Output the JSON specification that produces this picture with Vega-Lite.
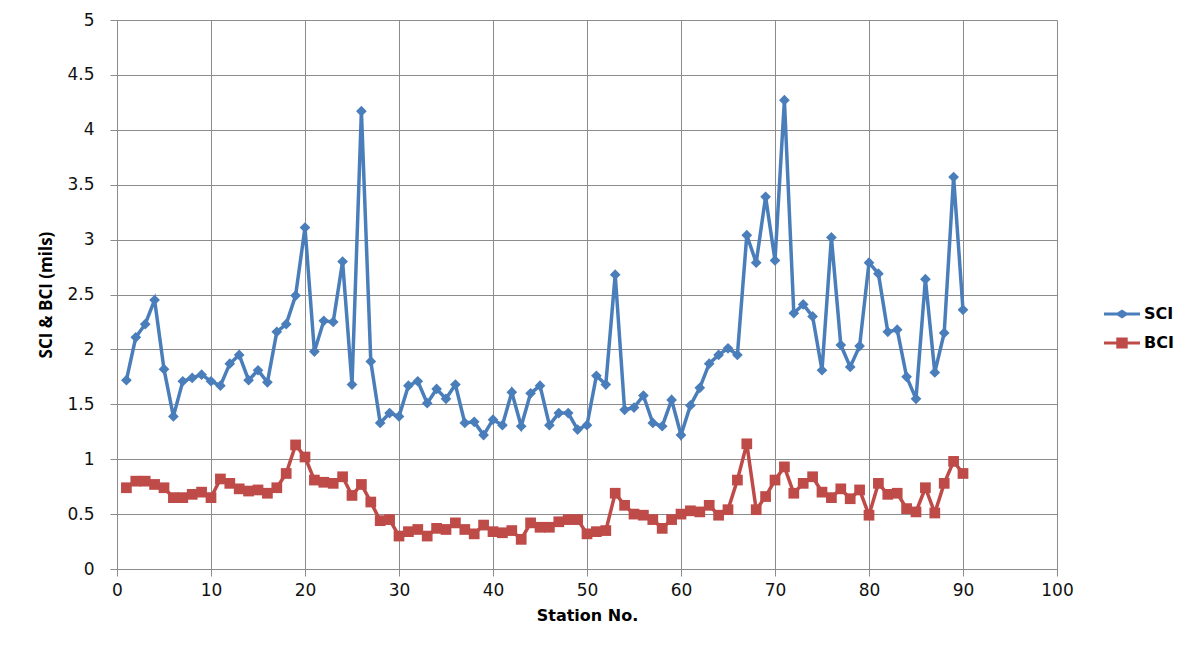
{
  "$schema": "https://vega.github.io/schema/vega-lite/v6.json",
  "autosize": "none",
  "width": 940,
  "height": 549,
  "padding": {"left": 117, "top": 20, "right": 128, "bottom": 77},
  "background": "white",
  "config": {
    "view": {"stroke": null},
    "axis": {
      "gridColor": "#8c8c8c",
      "gridWidth": 1,
      "domainColor": "#8c8c8c",
      "tickColor": "#8c8c8c",
      "tickSize": 7,
      "labelFont": "DejaVu Sans",
      "labelFontSize": 17,
      "labelColor": "#111",
      "titleColor": "#000",
      "titleFontWeight": "bold",
      "titleFontSize": 17
    }
  },
  "datasets": {
    "deflection": [
      {"station": 1, "SCI": 1.72, "BCI": 0.74},
      {"station": 2, "SCI": 2.11, "BCI": 0.80},
      {"station": 3, "SCI": 2.23, "BCI": 0.80},
      {"station": 4, "SCI": 2.45, "BCI": 0.77},
      {"station": 5, "SCI": 1.82, "BCI": 0.74},
      {"station": 6, "SCI": 1.39, "BCI": 0.65},
      {"station": 7, "SCI": 1.71, "BCI": 0.65},
      {"station": 8, "SCI": 1.74, "BCI": 0.68},
      {"station": 9, "SCI": 1.77, "BCI": 0.70},
      {"station": 10, "SCI": 1.71, "BCI": 0.65},
      {"station": 11, "SCI": 1.67, "BCI": 0.82},
      {"station": 12, "SCI": 1.87, "BCI": 0.78},
      {"station": 13, "SCI": 1.95, "BCI": 0.73},
      {"station": 14, "SCI": 1.72, "BCI": 0.71},
      {"station": 15, "SCI": 1.81, "BCI": 0.72},
      {"station": 16, "SCI": 1.70, "BCI": 0.69},
      {"station": 17, "SCI": 2.16, "BCI": 0.74},
      {"station": 18, "SCI": 2.23, "BCI": 0.87},
      {"station": 19, "SCI": 2.49, "BCI": 1.13},
      {"station": 20, "SCI": 3.11, "BCI": 1.02},
      {"station": 21, "SCI": 1.98, "BCI": 0.81},
      {"station": 22, "SCI": 2.26, "BCI": 0.79},
      {"station": 23, "SCI": 2.25, "BCI": 0.78},
      {"station": 24, "SCI": 2.80, "BCI": 0.84},
      {"station": 25, "SCI": 1.68, "BCI": 0.67},
      {"station": 26, "SCI": 4.17, "BCI": 0.77},
      {"station": 27, "SCI": 1.89, "BCI": 0.61},
      {"station": 28, "SCI": 1.33, "BCI": 0.44},
      {"station": 29, "SCI": 1.42, "BCI": 0.45},
      {"station": 30, "SCI": 1.39, "BCI": 0.30},
      {"station": 31, "SCI": 1.67, "BCI": 0.34},
      {"station": 32, "SCI": 1.71, "BCI": 0.36},
      {"station": 33, "SCI": 1.51, "BCI": 0.30},
      {"station": 34, "SCI": 1.64, "BCI": 0.37},
      {"station": 35, "SCI": 1.55, "BCI": 0.36},
      {"station": 36, "SCI": 1.68, "BCI": 0.42},
      {"station": 37, "SCI": 1.33, "BCI": 0.36},
      {"station": 38, "SCI": 1.34, "BCI": 0.32},
      {"station": 39, "SCI": 1.22, "BCI": 0.40},
      {"station": 40, "SCI": 1.36, "BCI": 0.34},
      {"station": 41, "SCI": 1.31, "BCI": 0.33},
      {"station": 42, "SCI": 1.61, "BCI": 0.35},
      {"station": 43, "SCI": 1.30, "BCI": 0.27},
      {"station": 44, "SCI": 1.60, "BCI": 0.42},
      {"station": 45, "SCI": 1.67, "BCI": 0.38},
      {"station": 46, "SCI": 1.31, "BCI": 0.38},
      {"station": 47, "SCI": 1.42, "BCI": 0.43},
      {"station": 48, "SCI": 1.42, "BCI": 0.45},
      {"station": 49, "SCI": 1.27, "BCI": 0.45},
      {"station": 50, "SCI": 1.31, "BCI": 0.32},
      {"station": 51, "SCI": 1.76, "BCI": 0.34},
      {"station": 52, "SCI": 1.68, "BCI": 0.35},
      {"station": 53, "SCI": 2.68, "BCI": 0.69},
      {"station": 54, "SCI": 1.45, "BCI": 0.58},
      {"station": 55, "SCI": 1.47, "BCI": 0.50},
      {"station": 56, "SCI": 1.58, "BCI": 0.49},
      {"station": 57, "SCI": 1.33, "BCI": 0.45},
      {"station": 58, "SCI": 1.30, "BCI": 0.37},
      {"station": 59, "SCI": 1.54, "BCI": 0.45},
      {"station": 60, "SCI": 1.22, "BCI": 0.50},
      {"station": 61, "SCI": 1.49, "BCI": 0.53},
      {"station": 62, "SCI": 1.65, "BCI": 0.52},
      {"station": 63, "SCI": 1.87, "BCI": 0.58},
      {"station": 64, "SCI": 1.95, "BCI": 0.49},
      {"station": 65, "SCI": 2.01, "BCI": 0.54},
      {"station": 66, "SCI": 1.95, "BCI": 0.81},
      {"station": 67, "SCI": 3.04, "BCI": 1.14},
      {"station": 68, "SCI": 2.79, "BCI": 0.54},
      {"station": 69, "SCI": 3.39, "BCI": 0.66},
      {"station": 70, "SCI": 2.81, "BCI": 0.81},
      {"station": 71, "SCI": 4.27, "BCI": 0.93},
      {"station": 72, "SCI": 2.33, "BCI": 0.69},
      {"station": 73, "SCI": 2.41, "BCI": 0.78},
      {"station": 74, "SCI": 2.30, "BCI": 0.84},
      {"station": 75, "SCI": 1.81, "BCI": 0.70},
      {"station": 76, "SCI": 3.02, "BCI": 0.65},
      {"station": 77, "SCI": 2.04, "BCI": 0.73},
      {"station": 78, "SCI": 1.84, "BCI": 0.64},
      {"station": 79, "SCI": 2.03, "BCI": 0.72},
      {"station": 80, "SCI": 2.79, "BCI": 0.49},
      {"station": 81, "SCI": 2.69, "BCI": 0.78},
      {"station": 82, "SCI": 2.16, "BCI": 0.68},
      {"station": 83, "SCI": 2.18, "BCI": 0.69},
      {"station": 84, "SCI": 1.75, "BCI": 0.55},
      {"station": 85, "SCI": 1.55, "BCI": 0.52},
      {"station": 86, "SCI": 2.64, "BCI": 0.74},
      {"station": 87, "SCI": 1.79, "BCI": 0.51},
      {"station": 88, "SCI": 2.15, "BCI": 0.78},
      {"station": 89, "SCI": 3.57, "BCI": 0.98},
      {"station": 90, "SCI": 2.36, "BCI": 0.87}
    ]
  },
  "data": {"name": "deflection"},
  "transform": [
    {"fold": ["SCI", "BCI"], "as": ["index", "value"]}
  ],
  "encoding": {
    "x": {
      "field": "station",
      "type": "quantitative",
      "scale": {"domain": [0, 100], "nice": false, "zero": true},
      "axis": {
        "title": "Station No.",
        "titleFont": "DejaVu Sans",
        "titleFontSize": 16,
        "values": [0, 10, 20, 30, 40, 50, 60, 70, 80, 90, 100],
        "labelPadding": 6,
        "titlePadding": 9,
        "labelFlush": false
      }
    },
    "y": {
      "field": "value",
      "type": "quantitative",
      "scale": {"domain": [0, 5], "nice": false},
      "axis": {
        "title": "SCI & BCI (mils)",
        "titleFont": "Open Sans",
        "titleFontSize": 17,
        "values": [0, 0.5, 1, 1.5, 2, 2.5, 3, 3.5, 4, 4.5, 5],
        "format": "~g",
        "labelPadding": 16,
        "titlePadding": 11,
        "labelFlush": false
      }
    },
    "color": {
      "field": "index",
      "type": "nominal",
      "scale": {"domain": ["SCI", "BCI"], "range": ["#4A7EBB", "#BE4B48"]},
      "legend": {
        "title": null,
        "orient": "none",
        "legendX": 997,
        "legendY": 286,
        "padding": 0,
        "labelFont": "DejaVu Sans",
        "labelFontSize": 16,
        "labelFontWeight": "bold",
        "labelColor": "#000",
        "labelOffset": 14,
        "rowPadding": 10,
        "symbolSize": 144,
        "symbolStrokeWidth": 3,
        "encode": {
          "symbols": {
            "update": {
              "shape": {"signal": "datum.value === 'SCI' ? 'M-3,0H3M-0.7,0L0,-0.45L0.7,0L0,0.45Z' : 'M-3,0H3M-0.7,-0.65H0.7V0.65H-0.7Z'"},
              "fill": {"signal": "datum.value === 'SCI' ? '#4A7EBB' : '#BE4B48'"},
              "stroke": {"signal": "datum.value === 'SCI' ? '#4A7EBB' : '#BE4B48'"},
              "strokeWidth": {"value": 3},
              "opacity": {"value": 1}
            }
          }
        }
      }
    }
  },
  "layer": [
    {
      "mark": {"type": "line", "strokeWidth": 3.5}
    },
    {
      "mark": {"type": "point", "filled": true, "opacity": 1, "size": 115},
      "encoding": {
        "shape": {
          "field": "index",
          "type": "nominal",
          "scale": {"domain": ["BCI", "SCI"], "range": ["square", "diamond"]},
          "legend": null
        }
      }
    }
  ]
}
